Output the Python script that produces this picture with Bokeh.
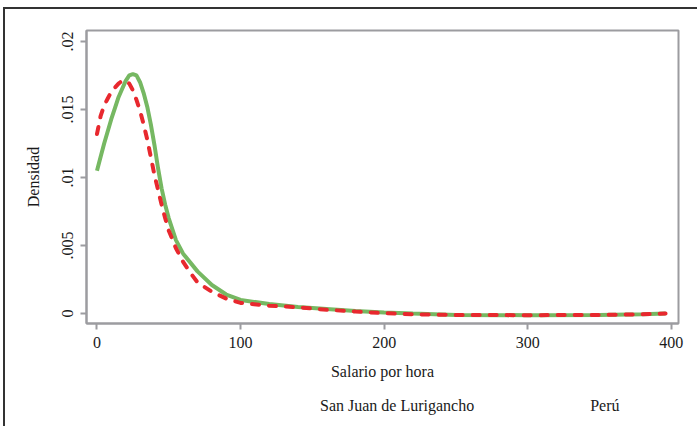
from bokeh.plotting import figure
from bokeh.layouts import column
from bokeh.models import FixedTicker, Legend, LegendItem, Range1d
from bokeh.embed import file_html
from bokeh.resources import INLINE

# Kernel density estimates
sjl_x = [0, 2.5, 5, 7.5, 10, 12.5, 15, 17.5, 20, 22.5, 25, 27.5, 30, 32.5, 35,
         37.5, 40, 42.5, 45, 47.5, 50, 55, 60, 70, 80, 90, 100,
         120, 140, 160, 180, 200, 220, 250, 300, 350, 380, 396]
sjl_y = [0.0105, 0.0115, 0.0125, 0.0134, 0.0143, 0.0151, 0.0159, 0.0165,
         0.0171, 0.0175, 0.0176, 0.0175, 0.0170, 0.0162, 0.0152, 0.0139,
         0.0124, 0.0107, 0.0092, 0.0080, 0.0070, 0.0054, 0.0044, 0.0031,
         0.0021, 0.0014, 0.0010, 0.0007, 0.00048, 0.00033, 0.00018, 0.00008,
         0.0, -0.0001, -0.00012, -0.0001, -0.00005, 0.0]

peru_x = [0, 2.5, 5, 7.5, 10, 12.5, 15, 17.5, 20, 22.5, 25, 27.5, 30, 32.5,
          35, 37.5, 40, 42.5, 45, 47.5, 50, 55, 60, 65, 70,
          80, 90, 100, 120, 140, 160, 180, 200, 220, 250, 300, 350, 380, 396]
peru_y = [0.0132, 0.0145, 0.0153, 0.0158, 0.0163, 0.0166, 0.0169, 0.0171,
          0.0171, 0.0169, 0.0164, 0.0157, 0.0149, 0.0139, 0.0128, 0.0115,
          0.0102, 0.0091, 0.0080, 0.0070, 0.0061, 0.0048, 0.0038, 0.0030,
          0.0023, 0.0016, 0.0011, 0.00078, 0.00058, 0.00046, 0.00028, 0.00015,
          0.00003, -0.00005, -0.0001, -0.00012, -0.0001, -0.00005, 0.0]

x_ticks = [0, 100, 200, 300, 400]
y_ticks = [0, 0.005, 0.01, 0.015, 0.02]
y_tick_labels = ["0", ".005", ".01", ".015", ".02"]
series_names = ["San Juan de Lurigancho", "Perú"]

FONT = "Liberation Serif"
GREEN = "#76b862"
RED = "#e8282e"
GREY = "#9c9ca0"
DASH = "7 10"

# ---- main chart -------------------------------------------------------
p = figure(width=697, height=395, output_backend="svg", toolbar_location=None,
           x_range=Range1d(-7.3, 405), y_range=Range1d(-0.00073, 0.0208),
           min_border_left=86, min_border_right=19, min_border_top=30,
           min_border_bottom=72)

# outer frame of the graph region (dark line on top and left)
p.styles = {"box-shadow": "inset 3px 0 0 0 #ffffff, inset 0 7px 0 0 #ffffff, "
                          "inset 5px 0 0 0 #333333, inset 0 9px 0 0 #333333"}

p.background_fill_color = "white"
p.border_fill_color = None
p.outline_line_color = GREY
p.outline_line_width = 2
p.xgrid.visible = False
p.ygrid.visible = False

p.line(sjl_x, sjl_y, line_color=GREEN, line_width=4)
p.line(peru_x, peru_y, line_color=RED, line_width=4, line_dash=DASH,
       line_cap="round")

for ax in (p.xaxis[0], p.yaxis[0]):
    ax.axis_line_color = GREY
    ax.axis_line_width = 2
    ax.major_tick_line_color = GREY
    ax.major_tick_line_width = 2
    ax.major_tick_out = 6
    ax.major_tick_in = 0
    ax.minor_tick_line_color = None
    ax.major_label_text_font = FONT
    ax.major_label_text_font_size = "16px"
    ax.major_label_text_color = "#1a1a1a"
    ax.axis_label_text_font = FONT
    ax.axis_label_text_font_size = "16px"
    ax.axis_label_text_font_style = "normal"
    ax.axis_label_text_color = "#1a1a1a"
    ax.major_label_standoff = 7

p.xaxis.ticker = FixedTicker(ticks=x_ticks)
p.yaxis.ticker = FixedTicker(ticks=y_ticks)
p.yaxis.major_label_overrides = {t: l for t, l in zip(y_ticks, y_tick_labels)}
p.yaxis.major_label_orientation = "vertical"
p.xaxis.axis_label = "Salario por hora"
p.yaxis.axis_label = "Densidad"
p.xaxis.axis_label_standoff = 12
p.yaxis.axis_label_standoff = 18

# ---- legend strip below the chart --------------------------------------
lg = figure(width=697, height=31, output_backend="svg", toolbar_location=None,
            x_axis_type=None, y_axis_type=None, min_border=0,
            x_range=Range1d(0, 1), y_range=Range1d(0, 1))
lg.styles = {"box-shadow": "inset 3px 0 0 0 #ffffff, inset 5px 0 0 0 #333333"}
lg.background_fill_color = None
lg.border_fill_color = None
lg.outline_line_color = None
lg.xgrid.visible = False
lg.ygrid.visible = False

k1 = lg.line([], [], line_color=GREEN, line_width=4)
k2 = lg.line([], [], line_color=RED, line_width=4, line_dash=DASH,
             line_cap="round")

legend = Legend(items=[LegendItem(label=series_names[0], renderers=[k1]),
                       LegendItem(label=series_names[1], renderers=[k2])],
                orientation="horizontal", location=(186, 10),
                glyph_width=38, glyph_height=20, label_height=20,
                label_standoff=10, spacing=68, padding=0, margin=0,
                border_line_color=None, background_fill_alpha=0,
                label_text_font=FONT, label_text_font_size="16px",
                label_text_color="#1a1a1a")
lg.add_layout(legend, "center")

layout = column(p, lg, spacing=0)
open("out.html", "w").write(file_html(layout, INLINE))
